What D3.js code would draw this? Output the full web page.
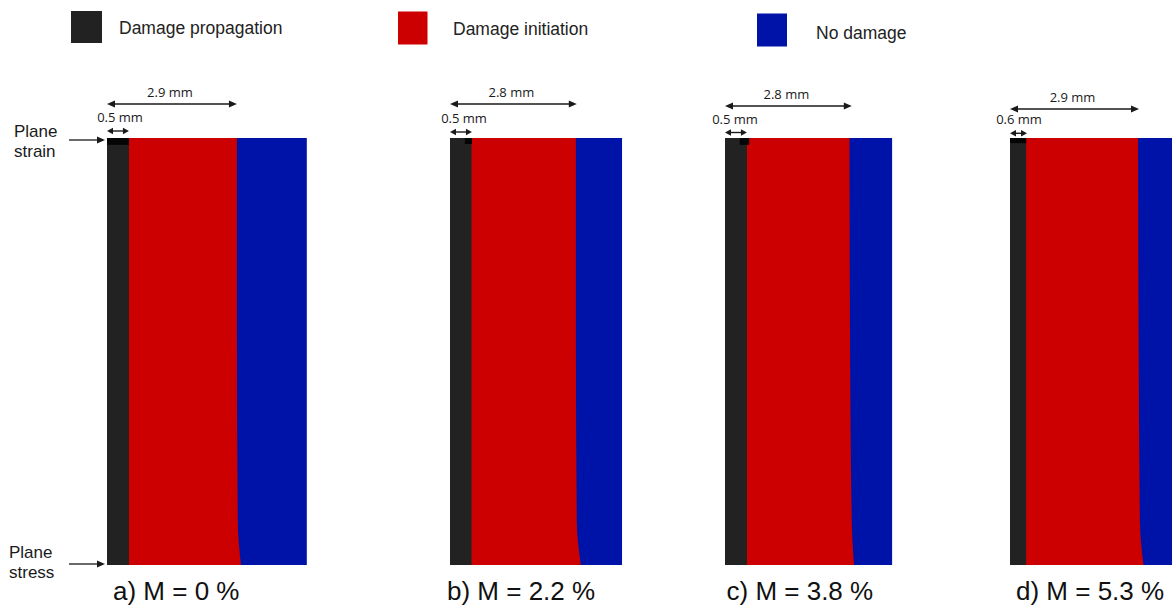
<!DOCTYPE html>
<html>
<head>
<meta charset="utf-8">
<script src="https://cdn.jsdelivr.net/npm/d3@7/dist/d3.min.js"></script>
<style>
  html, body { margin: 0; padding: 0; background: #fff; }
  svg { display: block; }
</style>
</head>
<body>
<svg id="chart" width="1172" height="607"></svg>
<script>
// ---------------- DATA ----------------
const legendLabels = ["Damage propagation", "Damage initiation", "No damage"];
const panelLabels = ["a) M = 0 %", "b) M = 2.2 %", "c) M = 3.8 %", "d) M = 5.3 %"];
// depth (mm) of the damage-propagation zone
const propDepth = [0.49, 0.48, 0.49, 0.36];
// initiation front depth (mm) along the thickness (0 = plane strain, 1 = plane stress)
const frontT = [0, 0.45, 0.9, 1];
const frontDepth = [
  [2.90, 2.90, 2.92, 2.99],
  [2.81, 2.81, 2.83, 2.92],
  [2.78, 2.79, 2.83, 2.88],
  [2.86, 2.87, 2.90, 2.98]
];
// total modelled width (mm)
const specimenWidth = [4.46, 3.84, 3.73, 3.75];
// small fully-failed patch at the plane-strain surface (mm range)
const patchStart = [0.00, 0.33, 0.33, 0.00];
const patchEnd = [0.49, 0.49, 0.54, 0.36];
const patchT = [0.016, 0.014, 0.016, 0.012];
// dimension annotations
const dimTotalLabels = ["2.9 mm", "2.8 mm", "2.8 mm", "2.9 mm"];
const dimTotalLen = [2.90, 2.83, 2.83, 2.88];
const dimSmallLabels = ["0.5 mm", "0.5 mm", "0.5 mm", "0.6 mm"];
const dimSmallLen = [0.49, 0.49, 0.49, 0.38];

(function () {
// ---------------- LAYOUT ----------------
const panelX = [107, 450, 725, 1010];
const dimTotalY = [104, 104, 106, 109];
const dimSmallY = [131, 132, 132.5, 133.3];
const smallLabelDx = [13, 14, 10, 9];
const labelDx = [6, -3, 1.5, 6];
const topY = 138, bottomY = 565;
const pxPerMm = 44.8;

const colors = { prop: "#222222", init: "#cc0000", none: "#0013a8", patch: "#050505", ink: "#1a1a1a" };

const svg = d3.select("#chart");
svg.append("rect").attr("width", 1172).attr("height", 607).attr("fill", "#fff");

const y = d3.scaleLinear().domain([0, 1]).range([topY, bottomY]);
const wScale = d3.scaleLinear().domain([0, 1]).range([0, pxPerMm]);

function arrowHead(g, x, yy, dir, len, hw) {
  g.append("path")
    .attr("d", `M${x},${yy} L${x - dir * len},${yy - hw} L${x - dir * len},${yy + hw} Z`)
    .attr("fill", colors.ink);
}
function dimArrow(g, x1, x2, yy, len, hw, sw) {
  g.append("line").attr("x1", x1 + len * 0.6).attr("x2", x2 - len * 0.6)
    .attr("y1", yy).attr("y2", yy).attr("stroke", colors.ink).attr("stroke-width", sw);
  arrowHead(g, x1, yy, -1, len, hw);
  arrowHead(g, x2, yy, 1, len, hw);
}

// ---------------- PANELS ----------------
panelLabels.forEach((lab, i) => {
  const x = d3.scaleLinear().domain([0, 1]).range([panelX[i], panelX[i] + pxPerMm]);
  const g = svg.append("g");
  const pts = frontT.map((t, k) => [frontDepth[i][k], t]);

  g.append("rect").attr("x", x(0)).attr("y", y(0))
    .attr("width", wScale(specimenWidth[i])).attr("height", y(1) - y(0))
    .attr("fill", colors.none);
  const area = d3.area().x0(x(0)).x1(d => x(d[0])).y(d => y(d[1])).curve(d3.curveMonotoneY);
  g.append("path").datum(pts).attr("d", area).attr("fill", colors.init);
  g.append("rect").attr("x", x(0)).attr("y", y(0))
    .attr("width", wScale(propDepth[i])).attr("height", y(1) - y(0))
    .attr("fill", colors.prop);
  g.append("rect").attr("x", x(patchStart[i])).attr("y", y(0))
    .attr("width", wScale(patchEnd[i] - patchStart[i])).attr("height", y(patchT[i]) - y(0))
    .attr("fill", colors.patch);

  const x1 = x(0), x2 = x(dimTotalLen[i]);
  dimArrow(g, x1, x2, dimTotalY[i], 8, 3.6, 1.4);
  g.append("text").attr("x", (x1 + x2) / 2 - 2).attr("y", dimTotalY[i] - 7)
    .attr("text-anchor", "middle").attr("font-family", "'Open Sans', sans-serif")
    .attr("font-size", 13).attr("fill", colors.ink).text(dimTotalLabels[i]);
  const s2 = x(dimSmallLen[i]);
  dimArrow(g, x1, s2, dimSmallY[i], 6, 3.2, 1.4);
  g.append("text").attr("x", x1 + smallLabelDx[i]).attr("y", dimSmallY[i] - 9)
    .attr("text-anchor", "middle").attr("font-family", "'Open Sans', sans-serif")
    .attr("font-size", 13).attr("fill", colors.ink).text(dimSmallLabels[i]);

  g.append("text").attr("x", x1 + labelDx[i]).attr("y", 600)
    .attr("font-family", "'Liberation Sans', Arial, sans-serif")
    .attr("font-size", 26).attr("fill", "#111").text(lab);
});

// ---------------- SIDE ANNOTATIONS ----------------
const side = svg.append("g").attr("font-family", "'Liberation Sans', Arial, sans-serif")
  .attr("font-size", 17).attr("fill", "#1a1a1a");
side.append("text").attr("x", 14).attr("y", 137).text("Plane");
side.append("text").attr("x", 14).attr("y", 157).text("strain");
side.append("text").attr("x", 9).attr("y", 558).text("Plane");
side.append("text").attr("x", 9).attr("y", 578).text("stress");
[140, 564].forEach(yy => {
  side.append("line").attr("x1", 69).attr("x2", 100).attr("y1", yy).attr("y2", yy)
    .attr("stroke", colors.ink).attr("stroke-width", 1.3);
  arrowHead(side, 105, yy, 1, 8, 3.5);
});

// ---------------- LEGEND ----------------
const legendX = [71, 398, 757];
const legendY = [11, 11.5, 13.5];
const legendW = [31, 29.5, 30];
const legendH = [32, 33, 33];
const legendTextX = [119, 453, 816];
const legendTextY = [33.5, 34.5, 39];
const legendColors = [colors.prop, colors.init, colors.none];
const lg = svg.append("g");
legendLabels.forEach((l, i) => {
  lg.append("rect").attr("x", legendX[i]).attr("y", legendY[i])
    .attr("width", legendW[i]).attr("height", legendH[i])
    .attr("fill", legendColors[i]);
  lg.append("text").attr("x", legendTextX[i]).attr("y", legendTextY[i])
    .attr("font-family", "'Liberation Sans', Arial, sans-serif").attr("font-size", 17.5)
    .attr("fill", "#222").text(l);
});
})();
</script>
</body>
</html>
